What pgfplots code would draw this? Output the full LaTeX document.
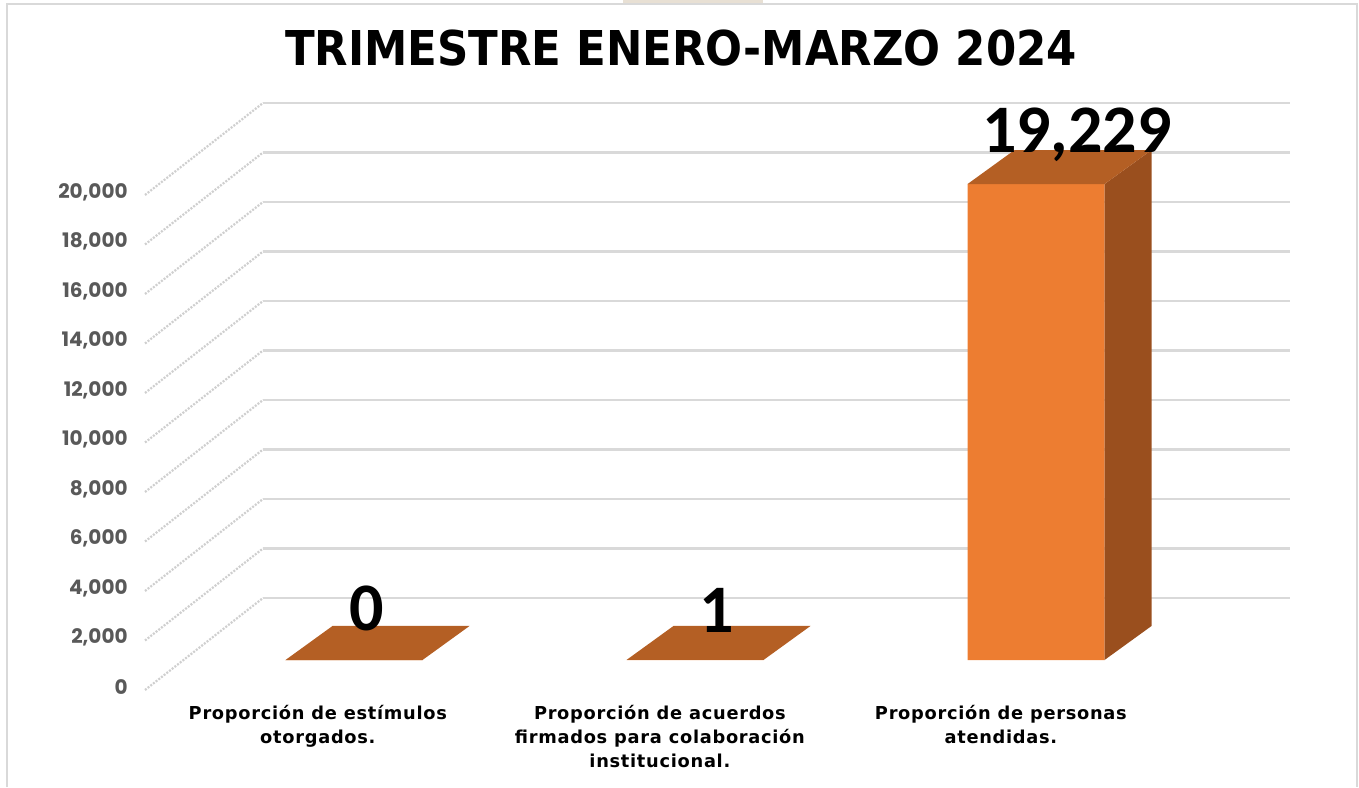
\documentclass[border=0pt]{standalone}
\usepackage{pgfplots}
\pgfplotsset{compat=1.18}
\usepackage{pgfplotstable}
\usepackage{fontspec}
\setmainfont{DejaVu Sans}
\newfontfamily\catfont[LetterSpace=4]{DejaVu Sans}
\newfontfamily\tickfont{Poppins}
\newfontfamily\valfont{Carlito}
\definecolor{barfront}{HTML}{ED7D31}
\definecolor{bartop}{HTML}{B45F24}
\definecolor{barside}{HTML}{9A4F1E}
\definecolor{gridc}{HTML}{D9D9D9}
\definecolor{diagc}{HTML}{CFCFCF}
\definecolor{tickc}{HTML}{595959}
\definecolor{framec}{HTML}{D9D9D9}
\definecolor{beige}{HTML}{E8E0D4}

\pgfplotstableread{
x v
1 0
2 1
3 19229
}\datatable

\newcommand\ylab[2]{\node[anchor=east,inner sep=0pt,text=tickc,font=\tickfont\bfseries\fontsize{10}{12}\selectfont] at (axis cs:0.3372,#1) {#2};}
\newcommand\gl[2]{%
  \draw[diagc,line width=1.1pt,dash pattern=on 1pt off 0.7pt] (axis cs:0.3871,#1) -- (axis cs:0.7331,#2);
  \draw[gridc,line width=1.3pt] (axis cs:0.7331,#2) -- (axis cs:3.7449,#2);}

\begin{document}
\begin{tikzpicture}
\begin{axis}[
  scale only axis, width=679.5pt, height=393.5pt,
  xmin=-0.03812, xmax=3.94721, ymin=-5131.3, ymax=26666.7,
  axis lines=none, clip=false,
]
\path (rel axis cs:0,0) rectangle (rel axis cs:1,1);
% frame
\fill[beige] (axis cs:1.789,26465) rectangle (axis cs:2.199,26666.7);
\draw[framec,line width=0.8pt] (axis cs:-0.0176,-5131.3) -- (axis cs:-0.0176,26505) -- (axis cs:3.9413,26505) -- (axis cs:3.9413,-5131.3);
% gridlines (back wall + floor diagonals)
\gl{-1212}{2505}
\gl{788}{4505}
\gl{2788}{6505}
\gl{4788}{8505}
\gl{6788}{10505}
\gl{8788}{12505}
\gl{10788}{14505}
\gl{12788}{16505}
\gl{14788}{18505}
\gl{16788}{20505}
\gl{18788}{22505}
% y tick labels
\ylab{-1100}{0}
\ylab{900}{2,000}
\ylab{2900}{4,000}
\ylab{4900}{6,000}
\ylab{6900}{8,000}
\ylab{8900}{10,000}
\ylab{10900}{12,000}
\ylab{12900}{14,000}
\ylab{14900}{16,000}
\ylab{16900}{18,000}
\ylab{18900}{20,000}
% bars: front faces
\addplot[ybar, bar width=0.4018, fill=barfront, draw=none] table[x=x,y=v]{\datatable};
% side faces
\addplot[fill=barside, draw=none] coordinates {(3.2009,0) (3.3387,1374) (3.3387,20603) (3.2009,19229)} -- cycle;
% top faces
\addplot[fill=bartop, draw=none] coordinates {(0.7991,0) (1.2009,0) (1.3387,1374) (0.9369,1374)} -- cycle;
\addplot[fill=bartop, draw=none] coordinates {(1.7991,1) (2.2009,1) (2.3387,1375) (1.9369,1375)} -- cycle;
\addplot[fill=bartop, draw=none] coordinates {(2.7991,19229) (3.2009,19229) (3.3387,20603) (2.9369,20603)} -- cycle;
% value labels
\node[anchor=base,inner sep=0pt,font=\valfont\bfseries\fontsize{34}{40}\selectfont] at (axis cs:1.038,1212) {0};
\node[anchor=base,inner sep=0pt,font=\valfont\bfseries\fontsize{34}{40}\selectfont] at (axis cs:2.065,1131) {1};
\node[anchor=base,inner sep=0pt,font=\valfont\bfseries\fontsize{34}{40}\selectfont] at (axis cs:3.120,20525) {19,229};
% title
\node[anchor=base,inner sep=0pt,font=\bfseries\fontsize{24}{28}\selectfont] at (axis cs:1.959,24040) {\scalebox{0.906}[1]{TRIMESTRE ENERO-MARZO 2024}};
% category labels
\node[anchor=north,inner sep=0pt,align=center,font=\catfont\bfseries\fontsize{8.9}{12}\selectfont] at (axis cs:0.894,-1820) {Proporción de estímulos\\otorgados.};
\node[anchor=north,inner sep=0pt,align=center,font=\catfont\bfseries\fontsize{8.9}{12}\selectfont] at (axis cs:1.897,-1820) {Proporción de acuerdos\\firmados para colaboración\\institucional.};
\node[anchor=north,inner sep=0pt,align=center,font=\catfont\bfseries\fontsize{8.9}{12}\selectfont] at (axis cs:2.897,-1820) {Proporción de personas\\atendidas.};
\end{axis}
\end{tikzpicture}
\end{document}
